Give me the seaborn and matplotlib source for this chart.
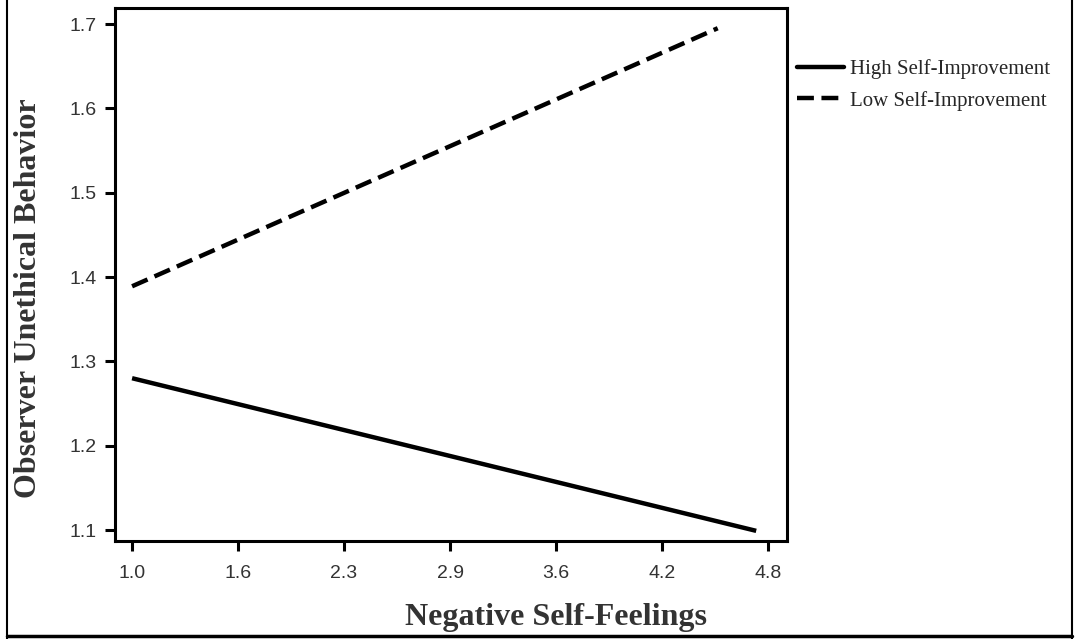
import pandas as pd
import numpy as np
import matplotlib
matplotlib.use("Agg")
import matplotlib.pyplot as plt
import seaborn as sns
from matplotlib.lines import Line2D

# simple slopes
high_x = [1.0, 4.73]
high_y = [1.280, 1.099]
low_x = [1.0, 4.50]
low_y = [1.389, 1.695]
groups = ["High Self-Improvement", "Low Self-Improvement"]
xtick_labels = ["1.0", "1.6", "2.3", "2.9", "3.6", "4.2", "4.8"]
ytick_vals = [1.1, 1.2, 1.3, 1.4, 1.5, 1.6, 1.7]

df = pd.DataFrame({
    "x": high_x + low_x,
    "y": high_y + low_y,
    "group": [groups[0]] * len(high_x) + [groups[1]] * len(low_x),
})

sns.set_style("white")
fig = plt.figure(figsize=(10.76, 6.39), dpi=100)
ax = fig.add_axes([0.1069, 0.1534, 0.6245, 0.8341])

sns.lineplot(data=df, x="x", y="y", style="group", hue="group",
             palette=["black", "black"], dashes=[(1, 0), (3.8, 1.7)],
             linewidth=3.2, ax=ax, legend=False)

ax.set_xlim(0.898, 4.914)
ax.set_ylim(1.087, 1.719)
ax.set_xticks(np.linspace(1.0, 4.8, 7))
ax.set_xticklabels(xtick_labels)
ax.set_yticks(ytick_vals)
ax.set_yticklabels([f"{v:.1f}" for v in ytick_vals])
for s in ax.spines.values():
    s.set_linewidth(2.2)
    s.set_color("black")
ax.tick_params(direction="out", length=7, width=2.2, color="black",
               labelsize=14, labelcolor="#333333", pad=6, bottom=True, left=True)
ax.tick_params(axis="x", pad=10)
for lab in ax.get_xticklabels() + ax.get_yticklabels():
    lab.set_family("Liberation Sans")
ax.set_xlabel("")
ax.set_ylabel("")

fig.text(556 / 1076, 1 - 617 / 639, "Negative Self-Feelings", family="Liberation Serif",
         weight="bold", fontsize=23, color="#333333", ha="center", va="center")
fig.text(29 / 1076, 1 - 298 / 639, "Observer Unethical Behavior", family="Liberation Serif",
         weight="bold", fontsize=23, color="#333333", ha="center", va="center",
         rotation=90)

handles = [Line2D([], [], color="black", lw=3.2),
           Line2D([], [], color="black", lw=3.2, dashes=(3.8, 1.7))]
fig.legend(handles, groups, loc="upper left", bbox_to_anchor=(0.727, 0.93),
           frameon=False, prop={"family": "Liberation Serif", "size": 15},
           handlelength=2.25, handletextpad=0.3, labelspacing=0.55, borderpad=0.2)

# outer border (left, right, bottom)
fig.add_artist(Line2D([0.0065, 0.0065], [0.0, 1.0], color="black", lw=1.5,
                      transform=fig.transFigure))
fig.add_artist(Line2D([0.996, 0.996], [0.0, 1.0], color="black", lw=1.5,
                      transform=fig.transFigure))
fig.add_artist(Line2D([0.0065, 0.996], [0.005, 0.005], color="black", lw=2.5,
                      transform=fig.transFigure))

fig.savefig("out.png", dpi=100)
